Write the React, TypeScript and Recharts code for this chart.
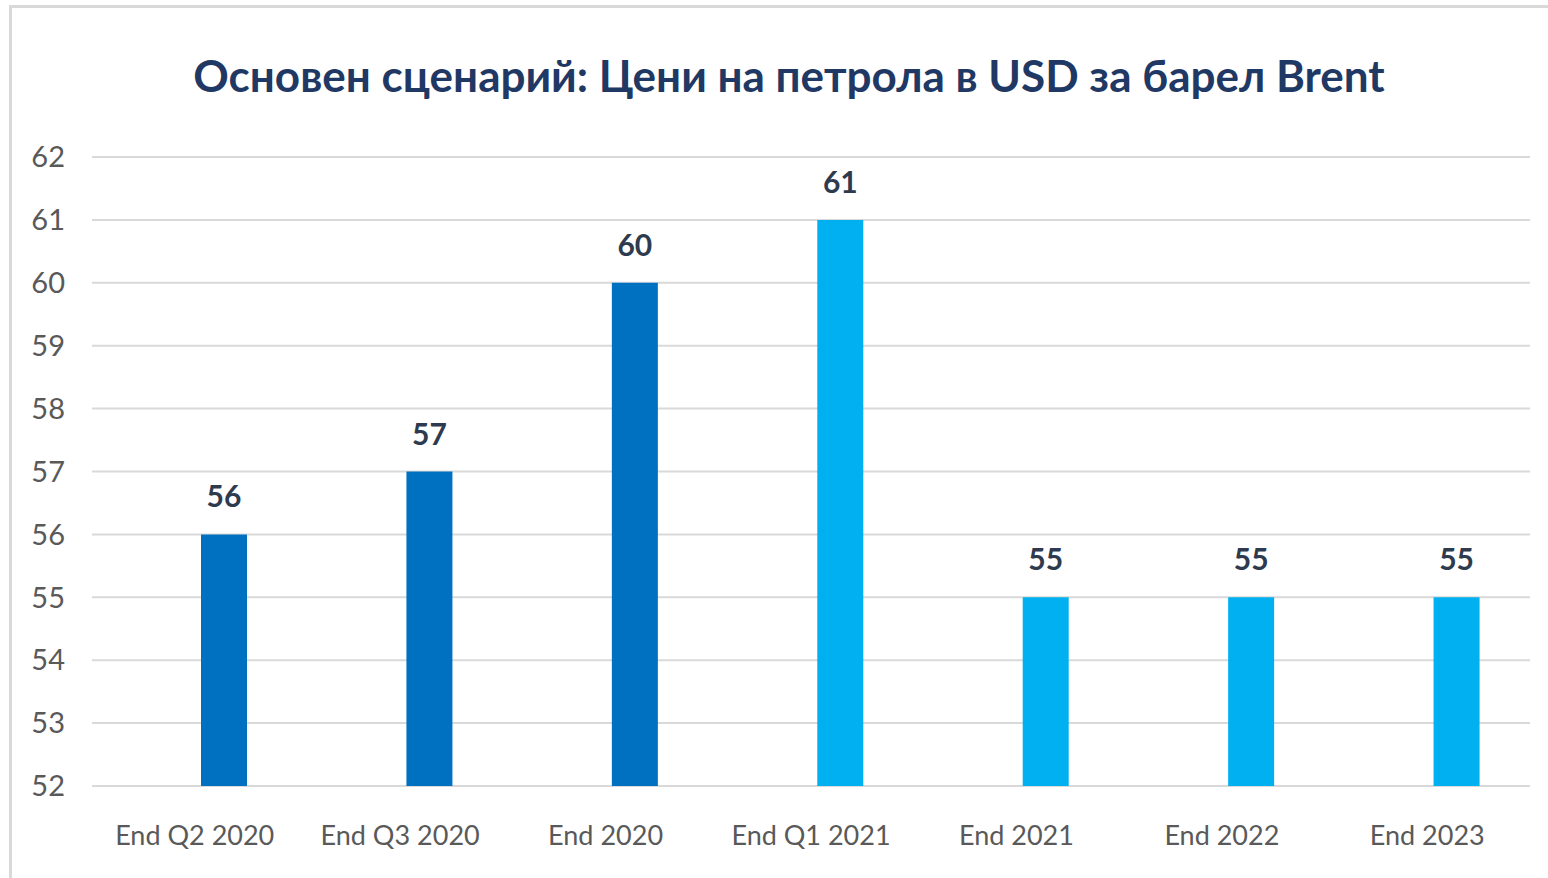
import React from 'react';
import { BarChart, Bar, XAxis, YAxis, CartesianGrid, Cell, LabelList } from 'recharts';

const TITLE = 'Основен сценарий: Цени на петрола в USD за барел Brent';

// categories and Brent price (USD/bbl)
const periods = ['End Q2 2020', 'End Q3 2020', 'End 2020', 'End Q1 2021', 'End 2021', 'End 2022', 'End 2023'];
const prices = [56, 57, 60, 61, 55, 55, 55];
// first three are actuals (dark), rest are forecast (light)
const isForecast = [false, false, false, true, true, true, true];
const yTicks = [52, 53, 54, 55, 56, 57, 58, 59, 60, 61, 62];

const DARK = '#0070C0';
const LIGHT = '#00B0F0';

const data = periods.map((p, i) => ({
  period: p,
  spacer: null as number | null, // empty first series, pushes bars right of centre like the original
  price: prices[i],
}));

export default function App() {
  return (
    <div style={{ position: 'absolute', left: 0, top: 0, width: 1548, height: 878, background: '#fff', overflow: 'hidden' }}>
      {/* frame */}
      <div style={{ position: 'absolute', left: 9, top: 5, right: 0, height: 3, background: '#D9D9D9' }} />
      <div style={{ position: 'absolute', left: 9, top: 5, bottom: 0, width: 3, background: '#D9D9D9' }} />

      <div
        style={{
          position: 'absolute',
          left: 0,
          top: 53,
          width: 1578,
          textAlign: 'center',
          fontFamily: 'Lato, sans-serif',
          fontWeight: 700,
          fontSize: 44,
          lineHeight: '44px',
          color: '#1F3864',
          whiteSpace: 'nowrap',
        }}
      >
        {TITLE}
      </div>

      <div style={{ position: 'absolute', left: 0, top: 0 }}>
        <BarChart
          width={1548}
          height={878}
          data={data}
          margin={{ top: 157, right: 18, left: 0, bottom: 32 }}
          barSize={46}
          barGap={12}
        >
          <CartesianGrid vertical={false} stroke="#D9D9D9" strokeWidth={2} />
          <XAxis
            dataKey="period"
            axisLine={false}
            tickLine={false}
            height={60}
            tickMargin={34}
            tick={{ fontFamily: 'Lato, sans-serif', fontSize: 27, fill: '#595959' }}
            interval={0}
          />
          <YAxis
            domain={[52, 62]}
            ticks={yTicks}
            width={92}
            axisLine={false}
            tickLine={false}
            tickMargin={21}
            tick={{ fontFamily: 'Lato, sans-serif', fontSize: 29, fill: '#595959' }}
          />
          <Bar dataKey="spacer" isAnimationActive={false} fill="none" />
          <Bar dataKey="price" isAnimationActive={false}>
            {data.map((d, i) => (
              <Cell key={d.period} fill={isForecast[i] ? LIGHT : DARK} />
            ))}
            <LabelList
              dataKey="price"
              position="top"
              offset={27}
              style={{ fontFamily: 'Lato, sans-serif', fontSize: 30, fontWeight: 700, fill: '#2E3A4E' }}
            />
          </Bar>
        </BarChart>
      </div>
    </div>
  );
}
